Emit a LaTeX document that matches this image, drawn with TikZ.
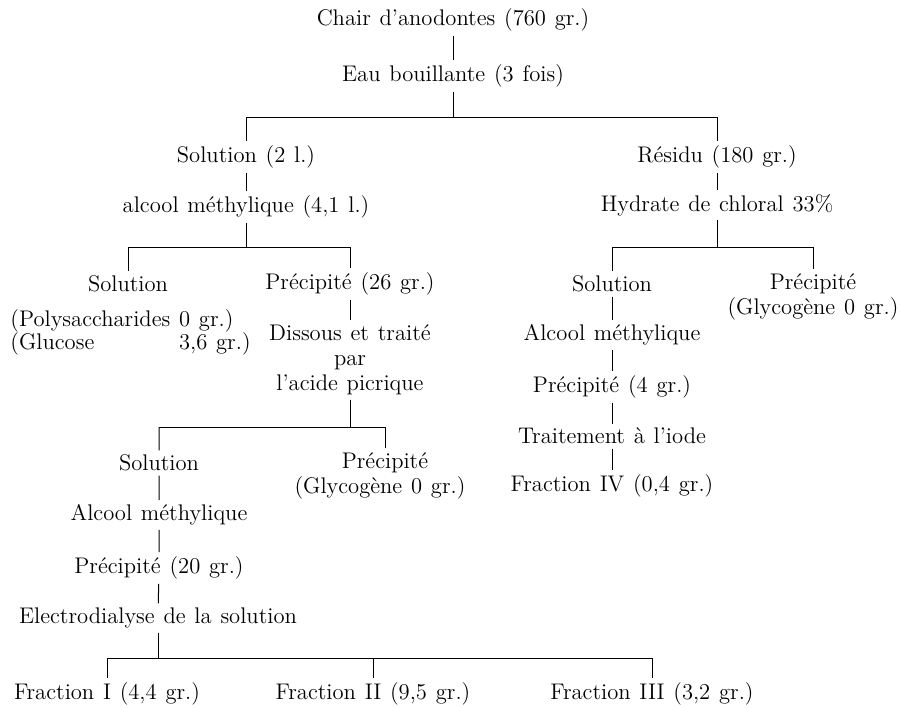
\documentclass[tikz,border=0pt]{standalone}
\usepackage{fontspec}
\newcommand\widesp{\spaceskip=4.4pt plus 1pt minus 1pt\relax}

\begin{document}
\begin{tikzpicture}[x = 0.5pt, y = -0.5pt, line width = 0.5pt, font = \fontsize{11.3}{11.5}\selectfont\widesp, every node/.style = {inner sep = 2pt}]
	\useasboundingbox (0, 0) rectangle (903, 707);

	\node (chair) at (453, 20){Chair d'anodontes (760 gr.)};
	\node (eau) at (453, 76){Eau bouillante (3 fois)};
	\coordinate (s1) at (453, 117);

	\node (sol) at (246, 157){Solution (2 l.)};
	\node (res) at (717, 157){Résidu (180 gr.)};
	\node (alc) at (246, 207){alcool méthylique (4,1 l.)};
	\node (chl) at (717, 205){Hydrate de chloral 33\%};
	\coordinate (s2) at (0, 247);

	\node (solA) at (128, 284){Solution};
	\node (preA) at (350, 284){Précipité (26 gr.)};
	\node (solB) at (612, 284){Solution};
	\node (preB) at (813, 284){Précipité};
	\node (glyB) at (813, 309){(Glycogène 0 gr.)};
	\node[anchor = west] (polA) at (6, 333){\begin{tabular}{@{}l@{\ }l@{}}(Polysaccharides & 0 gr.)\\ (Glucose & 3,6 gr.)\end{tabular}};
	\node[align = center, font = \fontsize{11.3}{12.5}\selectfont\widesp] (dis) at (350, 360){Dissous et traité\\ par\\ l'acide picrique};

	\node (alcB) at (612, 335){Alcool méthylique};
	\node (preC) at (612, 387){Précipité (4 gr.)};
	\node (iod) at (612, 436){Traitement à l'iode};
	\node (frIV) at (612, 486){Fraction IV (0,4 gr.)};

	\coordinate (s3) at (0, 427);
	\node (solC) at (159, 463){Solution};
	\node (preD) at (385, 463){Précipité};
	\node (glyD) at (380, 488){(Glycogène 0 gr.)};
	\node (alcC) at (159, 515){Alcool méthylique};
	\node (preE) at (159, 568){Précipité (20 gr.)};
	\node (ele) at (158, 618){Electrodialyse de la solution};
	\coordinate (s4) at (0, 658);

	\node (frI) at (107, 694){Fraction I (4,4 gr.)};
	\node (frII) at (373, 694){Fraction II (9,5 gr.)};
	\node (frIII) at (652, 694){Fraction III (3,2 gr.)};

	\draw (chair) -- (eau);
	\draw (eau) -- (s1);
	\draw (sol |- s1) -- (res |- s1);
	\draw (sol |- s1) -- (sol) -- (alc);
	\draw (res |- s1) -- (res) -- (chl);

	\draw (alc) -- (alc |- s2);
	\draw (solA |- s2) -- (preA |- s2);
	\draw (solA |- s2) -- (solA);
	\draw (preA |- s2) -- (preA) -- (dis);

	\draw (chl) -- (chl |- s2);
	\draw (solB |- s2) -- (preB |- s2);
	\draw (preB |- s2) -- (preB);
	\draw (solB |- s2) -- (solB) -- (alcB) -- (preC) -- (iod) -- (frIV);

	\draw (dis) -- (dis |- s3);
	\draw (solC |- s3) -- (preD |- s3);
	\draw (preD |- s3) -- (preD);
	\draw (solC |- s3) -- (solC) -- (alcC) -- (preE) -- (ele);

	\draw (ele) -- (ele |- s4);
	\draw (frI |- s4) -- (frIII |- s4);
	\draw (frI |- s4) -- (frI);
	\draw (frII |- s4) -- (frII);
	\draw (frIII |- s4) -- (frIII);
\end{tikzpicture}
\end{document}
